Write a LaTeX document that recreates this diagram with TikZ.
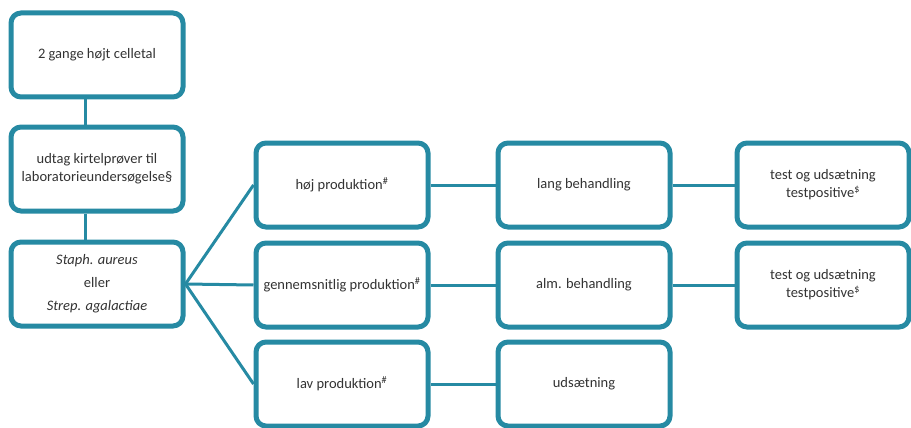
\documentclass[tikz,border=0pt]{standalone}
\usepackage{fontspec}
\setmainfont{Carlito}
\usetikzlibrary{shadows}
\definecolor{teal1}{RGB}{38,138,163}
\tikzset{
  box/.style={draw=teal1,line width=5pt,rounded corners=10pt,fill=white,
    minimum width=172pt,minimum height=84pt,align=center,
    font=\fontsize{14.5}{18}\selectfont,text=black!80,
    drop shadow={opacity=0.2,shadow xshift=1pt,shadow yshift=-1.5pt}},
  link/.style={draw=teal1,line width=3pt}
}
\begin{document}
\begin{tikzpicture}[x=1pt,y=-1pt]
\useasboundingbox (0,0) rectangle (911,428);
% left column
\node [box] (celle) at (97,55) {2 gange højt celletal};
\node [box] (proeve) at (97,169) {udtag kirtelprøver til\\laboratorieundersøgelse§};
\node [box,font=\fontsize{14.5}{23}\selectfont] (bakt) at (97,284)
  {\textit{Staph. aureus}\\eller\\\textit{Strep. agalactiae}};
% production
\node [box] (hoej) at (342,185) {høj produktion\textsuperscript{\#}};
\node [box] (gns) at (342,285) {gennemsnitlig produktion\textsuperscript{\#}};
\node [box] (lav) at (342,384) {lav produktion\textsuperscript{\#}};
% treatment
\node [box] (lang) at (584,185) {lang behandling};
\node [box] (alm) at (584,285) {alm. behandling};
\node [box] (uds) at (584,384) {udsætning};
% test
\node [box] (test1) at (823,185) {test og udsætning\\testpositive\textsuperscript{\$}};
\node [box] (test2) at (823,285) {test og udsætning\\testpositive\textsuperscript{\$}};
% connectors
\draw [link] ([xshift=-12pt]celle.south) -- ([xshift=-12pt]proeve.north);
\draw [link] ([xshift=-12pt]proeve.south) -- ([xshift=-12pt]bakt.north);
\draw [link] (bakt.east) -- (hoej.west);
\draw [link] (bakt.east) -- (gns.west);
\draw [link] (bakt.east) -- (lav.west);
\draw [link] (hoej) -- (lang);
\draw [link] (gns) -- (alm);
\draw [link] (lav) -- (uds);
\draw [link] (lang) -- (test1);
\draw [link] (alm) -- (test2);
\end{tikzpicture}
\end{document}
